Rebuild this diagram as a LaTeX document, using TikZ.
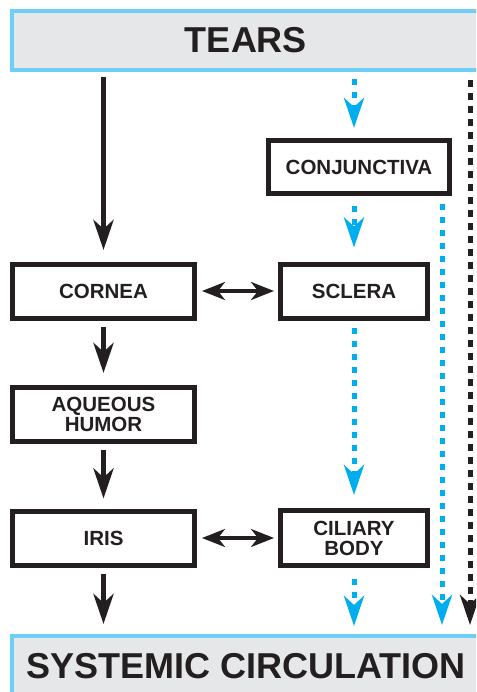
\documentclass[tikz,border=0pt]{standalone}
\usepackage{fontspec}
\setmainfont{Liberation Sans}
\usetikzlibrary{arrows.meta}
\definecolor{ink}{HTML}{231F20}
\definecolor{fluid}{HTML}{00AEEF}
\definecolor{rim}{HTML}{6DCFF6}
\definecolor{pale}{HTML}{E6E7E8}

\begin{document}
\begin{tikzpicture}[x=1pt, y=-1pt,
        tissue/.style={draw=ink, line width=5pt, inner sep=0pt, align=center, minimum height=54pt,
            text=ink, font=\bfseries\fontsize{20.5}{20}\selectfont},
        fluidbox/.style={draw=rim, fill=pale, line width=4pt, inner sep=0pt, minimum width=468pt,
            text=ink, font=\bfseries\fontsize{36}{36}\selectfont},
        tip/.style={-{Stealth[length=30pt, width=20pt, inset=9pt]}},
        direct/.style={tip, draw=ink, line width=5.5pt, shorten <=6pt, shorten >=10pt},
        leak/.style={tip, draw=fluid, line width=5pt, dash pattern=on 6pt off 7pt, shorten <=7pt, shorten >=9pt},
        bulk/.style={tip, draw=ink, line width=5pt, dash pattern=on 7pt off 6pt, shorten >=9pt},
        swap/.style={{Stealth[length=23pt, width=18pt, inset=7pt]}-{Stealth[length=23pt, width=18pt, inset=7pt]},
            draw=ink, line width=3.5pt, shorten <=5pt, shorten >=4pt}]
    \useasboundingbox (0,0) rectangle (476,692);
    \clip (0,0) rectangle (476,692);

    \node[fluidbox, minimum height=59pt] (tears) at (246,40.5) {\raisebox{2pt}{TEARS}};
    \node[fluidbox, minimum height=60pt] (blood) at (246,666) {\raisebox{1pt}{SYSTEMIC CIRCULATION}};

    \node[tissue, minimum width=182pt] (cornea) at (103.5,291.5) {CORNEA};
    \node[tissue, minimum width=182pt] (aqueous) at (103.5,414.5) {AQUEOUS\\HUMOR};
    \node[tissue, minimum width=182pt] (iris) at (103.5,538) {IRIS};
    \node[tissue, minimum width=181pt, minimum height=53pt] (conj) at (359,167) {CONJUNCTIVA};
    \node[tissue, minimum width=147pt] (sclera) at (354,291) {SCLERA};
    \node[tissue, minimum width=147pt, minimum height=55pt] (ciliary) at (354,538) {CILIARY\\BODY};

    \coordinate (seep) at (442,204);
    \coordinate (flow) at (470,80);

    \draw[direct, shorten <=5pt, shorten >=12pt] (tears.south -| cornea) -- (cornea);
    \draw[direct, shorten >=12pt] (cornea) -- (aqueous);
    \draw[direct] (aqueous) -- (iris);
    \draw[direct] (iris) -- (iris |- blood.north);

    \draw[leak, shorten >=10pt] (tears.south -| sclera) -- (conj.north -| sclera);
    \draw[leak, shorten <=10pt, shorten >=14pt] (conj.south -| sclera) -- (sclera);
    \draw[leak, shorten >=13pt] (sclera) -- (ciliary);
    \draw[leak, shorten <=11pt, shorten >=8pt] (ciliary) -- (ciliary |- blood.north);
    \draw[leak, shorten <=0pt] (seep) -- (seep |- blood.north);
    \draw[bulk] (flow) -- (flow |- blood.north);

    \draw[swap] (cornea.east |- sclera) -- (sclera.west);
    \draw[swap] (iris.east) -- (iris.east -| ciliary.west);
\end{tikzpicture}
\end{document}
